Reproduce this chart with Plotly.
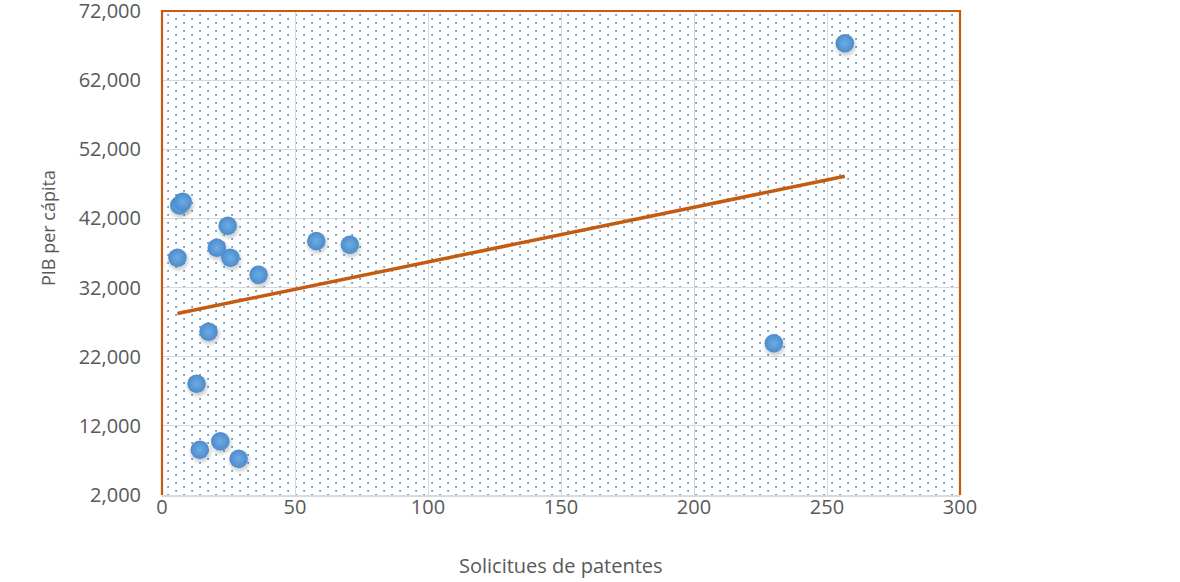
import base64
import numpy as np
import plotly.graph_objects as go

# Patent applications vs. GDP per capita
patentes = [6.5, 7.8, 5.8, 24.7, 20.6, 25.7, 36.3, 58.0, 70.6,
            17.5, 13.0, 14.2, 21.9, 28.8, 256.7, 230.0]
pib = [43900, 44400, 36320, 40950, 37770, 36320, 33860, 38735, 38200,
       25617, 18096, 8551, 9764, 7249, 67330, 23940]

x_ticks = [0, 50, 100, 150, 200, 250, 300]
y_ticks = [2000, 12000, 22000, 32000, 42000, 52000, 62000, 72000]

X_RANGE = [0, 300]
Y_RANGE = [2000, 72000]

W, H = 1180, 582
M = dict(l=162, r=220, t=11, b=87)
plot_w = W - M["l"] - M["r"]
plot_h = H - M["t"] - M["b"]

BLUE = "#5B9BD5"
ORANGE = "#C55A11"
GRID = "#D9D9D9"
TEXT = "#595959"
FONT = "Open Sans"

# Linear (least squares) trend line over the data span
slope, intercept = np.polyfit(patentes, pib, 1)
trend_x = np.array([min(patentes), max(patentes)])
trend_y = slope * trend_x + intercept

# Small drop-shadow offset for the markers, converted from pixels to data units
px_x = (X_RANGE[1] - X_RANGE[0]) / plot_w
px_y = (Y_RANGE[1] - Y_RANGE[0]) / plot_h
shadow_x = [v + 1.0 * px_x for v in patentes]
shadow_y = [v - 2.5 * px_y for v in pib]

# Dotted fill for the plot area (staggered dot lattice)
dot_svg = (
    f'<svg xmlns="http://www.w3.org/2000/svg" width="{plot_w}" height="{plot_h}" '
    f'viewBox="0 0 {plot_w} {plot_h}">'
    '<defs><pattern id="d" width="16" height="8" patternUnits="userSpaceOnUse">'
    f'<rect x="5.2" y="3" width="1.8" height="1.8" fill="{BLUE}"/>'
    f'<rect x="13.2" y="7" width="1.8" height="1.8" fill="{BLUE}"/>'
    f'<rect x="13.2" y="-1" width="1.8" height="1.8" fill="{BLUE}"/>'
    '</pattern></defs>'
    f'<rect width="{plot_w}" height="{plot_h}" fill="url(#d)"/></svg>'
)
dot_uri = "data:image/svg+xml;base64," + base64.b64encode(dot_svg.encode()).decode()

fig = go.Figure()

fig.add_trace(go.Scatter(
    x=shadow_x, y=shadow_y, mode="markers", hoverinfo="skip", showlegend=False,
    marker=dict(size=25, color="rgba(60,60,60,0)", line=dict(width=0),
                gradient=dict(type="radial", color="rgba(40,40,40,0.55)")),
))

fig.add_trace(go.Scatter(
    x=patentes, y=pib, mode="markers", showlegend=False,
    marker=dict(size=18.5, color="#4C8CCC", line=dict(width=0),
                gradient=dict(type="radial", color="#6CABE4")),
))

fig.add_trace(go.Scatter(
    x=trend_x, y=trend_y, mode="lines", showlegend=False, hoverinfo="skip",
    line=dict(color=ORANGE, width=3.5),
))

fig.update_layout(
    width=W, height=H, margin=dict(M, autoexpand=False),
    paper_bgcolor="white", plot_bgcolor="white",
    font=dict(family=FONT, color=TEXT, size=20),
    images=[dict(source=dot_uri, xref="paper", yref="paper", x=0, y=1,
                 sizex=1, sizey=1, xanchor="left", yanchor="top",
                 sizing="stretch", layer="below")],
    shapes=[dict(type="path", xref="paper", yref="paper",
                 path="M 0,0 L 0,1 L 1,1 L 1,0",
                 line=dict(color=ORANGE, width=2.2), layer="above")],
    annotations=[
        dict(text="Solicitues de patentes", xref="paper", yref="paper",
             x=0.5, y=(H - M["b"] - 565) / plot_h,
             xanchor="center", yanchor="middle", showarrow=False,
             font=dict(family=FONT, color=TEXT, size=20)),
        dict(text="PIB per cápita", xref="paper", yref="paper",
             x=(48 - M["l"]) / plot_w, y=(H - M["b"] - 228) / plot_h,
             xanchor="center", yanchor="middle", textangle=-90, showarrow=False,
             font=dict(family=FONT, color=TEXT, size=18)),
    ],
)

fig.update_xaxes(
    range=X_RANGE, tickvals=x_ticks, ticks="", showgrid=True,
    gridcolor=GRID, gridwidth=1.3, zeroline=False,
    showline=True, linecolor=GRID, linewidth=2, automargin=False,
    ticklabelstandoff=-7, ticklabeloverflow="allow",
)
fig.update_yaxes(
    range=Y_RANGE, tickvals=y_ticks, tickformat=",", ticks="", showgrid=True,
    gridcolor=GRID, gridwidth=1.3, zeroline=False, showline=False,
    automargin=False, ticklabelstandoff=20, ticklabeloverflow="allow",
)

fig.write_html("out.html")
